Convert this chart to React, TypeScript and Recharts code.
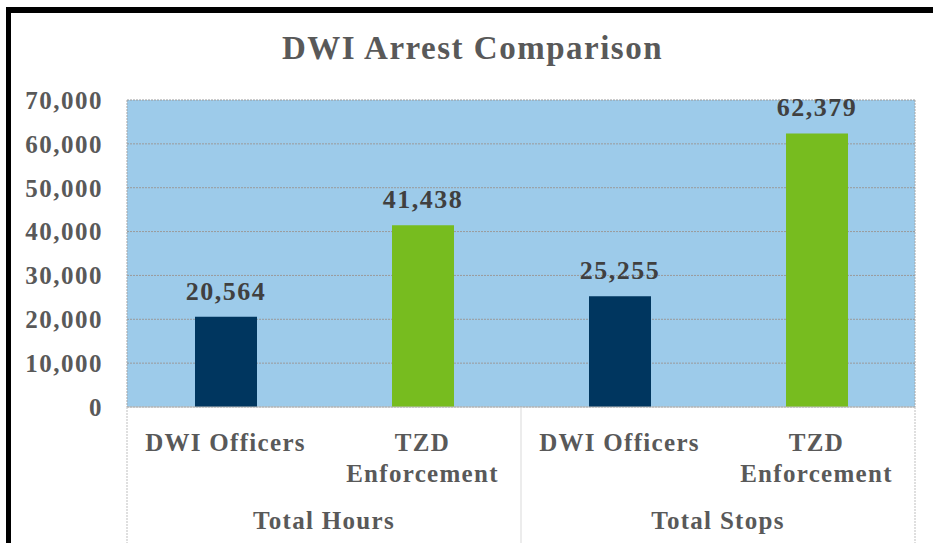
import * as React from "react";
import { BarChart, Bar, XAxis, YAxis, CartesianGrid, LabelList, Cell } from "recharts";

const categories = ["DWI Officers", "TZD Enforcement", "DWI Officers", "TZD Enforcement"];
const groups = ["Total Hours", "Total Hours", "Total Stops", "Total Stops"];
const values = [20564, 41438, 25255, 62379];
const barColors = ["#00365F", "#77BC1F", "#00365F", "#77BC1F"];
const yTicks = [0, 10000, 20000, 30000, 40000, 50000, 60000, 70000];

const data = categories.map((name, i) => ({ name, group: groups[i], value: values[i] }));

const FONT = '"Liberation Serif", "Times New Roman", serif';
const fmt = (v: number) => v.toLocaleString("en-US");

const CategoryTick = (props: any) => {
  const { x, y, payload, index } = props;
  const half = payload?.offset ?? 98.5;
  const words = String(payload.value).startsWith("TZD") ? ["TZD", "Enforcement"] : [payload.value];
  const isGroupStart = index % 2 === 0;
  const isLast = index === categories.length - 1;
  return (
    <g>
      {words.map((w: string, i: number) => (
        <text
          key={i}
          x={x}
          y={y + 36 + i * 31}
          textAnchor="middle"
          fontFamily={FONT}
          fontWeight="bold"
          fontSize={25}
          letterSpacing={1.3}
          fill="#595959"
        >
          {w}
        </text>
      ))}
      {isGroupStart && (
        <>
          <text
            x={x + half}
            y={y + 114}
            textAnchor="middle"
            fontFamily={FONT}
            fontWeight="bold"
            fontSize={25}
            letterSpacing={1.3}
            fill="#595959"
          >
            {groups[index]}
          </text>
          <line
            x1={x - half}
            x2={x - half}
            y1={y - 8}
            y2={y + 140}
            stroke={index === 0 ? "#BFBFBF" : "#D9D9D9"}
            strokeDasharray={index === 0 ? "2 1" : undefined}
          />
        </>
      )}
      {isLast && (
        <line x1={x + half} x2={x + half} y1={y - 8} y2={y + 140} stroke="#BFBFBF" strokeDasharray="2 1" />
      )}
    </g>
  );
};

export default function App() {
  return (
    <div style={{ position: "absolute", left: 0, top: 0, width: 933, height: 543, background: "#fff", overflow: "hidden" }}>
      <div
        style={{
          position: "absolute",
          left: 6,
          top: 7,
          width: 940,
          height: 600,
          borderLeft: "5px solid #000",
          borderTop: "6px solid #000",
        }}
      />
      <div
        style={{
          position: "absolute",
          left: 0,
          top: 30,
          width: 945,
          textAlign: "center",
          fontFamily: FONT,
          fontWeight: "bold",
          fontSize: 33,
          letterSpacing: 1.5,
          color: "#595959",
        }}
      >
        DWI Arrest Comparison
      </div>
      <div style={{ position: "absolute", left: 0, top: 0 }}>
        <BarChart
          width={933}
          height={543}
          data={data}
          margin={{ top: 100, right: 0, left: 0, bottom: 0 }}
          barSize={62}
        >
          <CartesianGrid yAxisId="left" vertical={false} fill="#9DCBEA" stroke="#9A9A9A" strokeDasharray="2 1" />
          <XAxis
            dataKey="name"
            height={136}
            interval={0}
            axisLine={{ stroke: "#BFBFBF" }}
            tickLine={false}
            tick={<CategoryTick />}
          />
          <YAxis
            yAxisId="left"
            width={127}
            domain={[0, 70000]}
            ticks={yTicks}
            tickFormatter={fmt}
            axisLine={{ stroke: "#A6A6A6", strokeDasharray: "2 1" }}
            tickLine={false}
            tickMargin={18}
            tick={{ fontFamily: FONT, fontWeight: "bold", fontSize: 25, fill: "#595959", letterSpacing: 1.5 }}
          />
          <YAxis
            yAxisId="right"
            orientation="right"
            width={18}
            domain={[0, 70000]}
            ticks={yTicks}
            tick={false}
            tickLine={false}
            axisLine={{ stroke: "#A6A6A6", strokeDasharray: "2 1" }}
          />
          <Bar dataKey="value" yAxisId="left" isAnimationActive={false}>
            {data.map((d, i) => (
              <Cell key={i} fill={barColors[i]} />
            ))}
            <LabelList
              dataKey="value"
              position="top"
              offset={17}
              formatter={(v: any) => fmt(Number(v))}
              style={{ fontFamily: FONT, fontWeight: "bold", fontSize: 26, fill: "#404040", letterSpacing: 1.5 }}
            />
          </Bar>
        </BarChart>
      </div>
    </div>
  );
}
